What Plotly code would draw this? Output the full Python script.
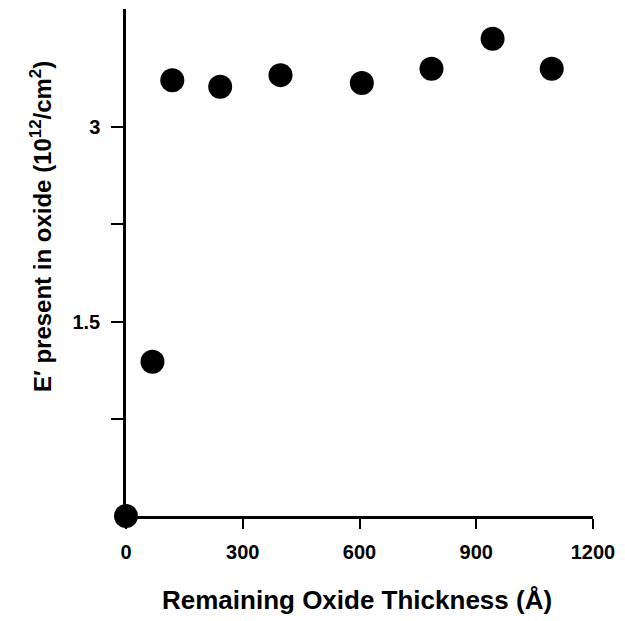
import plotly.graph_objects as go

thickness = [0, 68, 119, 242, 397, 606, 785, 942, 1094]
e_prime = [0.0, 1.19, 3.36, 3.31, 3.40, 3.34, 3.45, 3.68, 3.45]

x_ticks = [0, 300, 600, 900, 1200]
x_labels = ["0", "300", "600", "900", "1200"]
y_ticks = [0.75, 1.5, 2.25, 3]
y_labels = ["", "1.5", "", "3"]

FAM = "Liberation Sans, Arial, Helvetica, sans-serif"

fig = go.Figure()
fig.add_trace(go.Scatter(
    x=thickness, y=e_prime, mode="markers",
    marker=dict(size=24, color="black"),
    cliponaxis=False, showlegend=False,
))

fig.update_layout(
    width=617, height=613,
    margin=dict(l=118, r=32, t=1, b=105),
    paper_bgcolor="white", plot_bgcolor="white",
    font=dict(family=FAM, color="black"),
    xaxis=dict(
        range=[0, 1200], tickvals=x_ticks, ticktext=["<b>%s</b>" % t for t in x_labels],
        showgrid=False, zeroline=False, showline=True, linecolor="black", linewidth=2.5,
        ticks="outside", ticklen=10, tickwidth=2, tickcolor="black",
        ticklabelstandoff=6,
        tickfont=dict(size=20, family=FAM),
    ),
    yaxis=dict(
        range=[0, 3.91], tickvals=y_ticks,
        ticktext=[("<b>%s</b>" % t) if t else "" for t in y_labels],
        showgrid=False, zeroline=False, showline=True, linecolor="black", linewidth=2.5,
        ticks="outside", ticklen=12, tickwidth=2, tickcolor="black",
        ticklabelstandoff=7,
        tickfont=dict(size=20, family=FAM),
    ),
    annotations=[
        dict(text="<b>Remaining Oxide Thickness (Å)</b>", xref="paper", yref="paper",
             x=0.4946, y=0, xanchor="center", yanchor="middle", yshift=-84,
             showarrow=False, font=dict(size=26, family=FAM, color="black")),
        dict(text="<b>E′ present in oxide (10<sup>12</sup>/cm<sup>2</sup>)</b>",
             xref="paper", yref="paper", x=0, y=0.570, xanchor="center", yanchor="middle",
             xshift=-85, textangle=-90, showarrow=False,
             font=dict(size=24, family=FAM, color="black")),
    ],
)

fig.write_html("out.html")
